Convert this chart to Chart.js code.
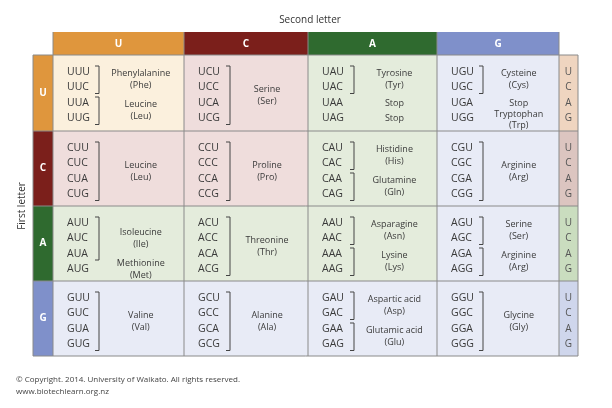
<!DOCTYPE html>
<html><head><meta charset="utf-8">
<script src="https://cdn.jsdelivr.net/npm/chart.js@4/dist/chart.umd.min.js"></script>
<style>html,body{margin:0;padding:0;background:#fff}#w{width:612px;height:408px}</style>
</head><body><div id="w"><canvas id="c"></canvas></div>
<script>
const bases = ['U','C','A','G'];
const headerColors = ['#DF963D','#7B1F1B','#2F6A2F','#7F90CA'];
const cellColors = ['#FBF0DD','#EFDDDC','#E4ECDC','#E8EBF6'];
const sideColors = ['#EFD5C0','#DCC5C0','#CADDBF','#CFD6EC'];
// groups[first][second] = [startIndex, count, name, abbrev]
const groups = [
 [[[0,2,'Phenylalanine','(Phe)'],[2,2,'Leucine','(Leu)']],
  [[0,4,'Serine','(Ser)']],
  [[0,2,'Tyrosine','(Tyr)'],[2,1,'Stop',''],[3,1,'Stop','']],
  [[0,2,'Cysteine','(Cys)'],[2,1,'Stop',''],[3,1,'Tryptophan','(Trp)']]],
 [[[0,4,'Leucine','(Leu)']],[[0,4,'Proline','(Pro)']],
  [[0,2,'Histidine','(His)'],[2,2,'Glutamine','(Gln)']],[[0,4,'Arginine','(Arg)']]],
 [[[0,3,'Isoleucine','(Ile)'],[3,1,'Methionine','(Met)']],[[0,4,'Threonine','(Thr)']],
  [[0,2,'Asparagine','(Asn)'],[2,2,'Lysine','(Lys)']],
  [[0,2,'Serine','(Ser)'],[2,2,'Arginine','(Arg)']]],
 [[[0,4,'Valine','(Val)']],[[0,4,'Alanine','(Ala)']],
  [[0,2,'Aspartic acid','(Asp)'],[2,2,'Glutamic acid','(Glu)']],[[0,4,'Glycine','(Gly)']]]
];
const titleTop = 'Second letter', titleLeft = 'First letter';
const footer = ['© Copyright. 2014. University of Waikato. All rights reserved.','www.biotechlearn.org.nz'];

const colX = [53,184,308,437,559], rowY = [55,131,206,281,356];
const plugin = {id:'table', afterDraw(ch){
  const c = ch.ctx, sx = ch.scales.x, sy = ch.scales.y;
  const X = v=>sx.getPixelForValue(v), Y = v=>sy.getPixelForValue(v);
  const F = 'Open Sans, DejaVu Sans, sans-serif';
  c.save();
  c.textAlign='center'; c.textBaseline='middle';
  c.fillStyle='#333'; c.font='10px '+F;
  c.fillText(titleTop, X(310), Y(20));
  c.save(); c.translate(X(22),Y(206)); c.rotate(-Math.PI/2); c.fillText(titleLeft,0,0); c.restore();
  for(let i=0;i<4;i++){
    c.fillStyle=headerColors[i];
    c.fillRect(X(colX[i]),Y(32),X(colX[i+1])-X(colX[i]),Y(55)-Y(32));
    c.fillRect(X(33),Y(rowY[i]),X(53)-X(33),Y(rowY[i+1])-Y(rowY[i]));
    c.fillStyle=sideColors[i];
    c.fillRect(X(559),Y(rowY[i]),X(578)-X(559),Y(rowY[i+1])-Y(rowY[i]));
    c.fillStyle='#fff'; c.font='bold 10px '+F;
    c.fillText(bases[i],(X(colX[i])+X(colX[i+1]))/2,Y(44));
    c.fillText(bases[i],X(43),(Y(rowY[i])+Y(rowY[i+1]))/2);
    c.fillStyle='#555'; c.font='10px '+F;
    for(let k=0;k<4;k++) c.fillText(bases[k],X(568.5),Y(rowY[i]+17+k*15.5));
  }
  for(let r=0;r<4;r++) for(let q=0;q<4;q++){
    const x0=colX[q], x1=colX[q+1], y0=rowY[r], y1=rowY[r+1];
    c.fillStyle=cellColors[Math.max(r,q)];
    c.fillRect(X(x0),Y(y0),X(x1)-X(x0),Y(y1)-Y(y0));
    c.fillStyle='#3a3a3a'; c.font='10.5px '+F; c.textAlign='left';
    const cy=k=>y0+17+k*15.5;
    for(let k=0;k<4;k++) c.fillText(bases[r]+bases[q]+bases[k],X(x0+14),Y(cy(k)));
    c.textAlign='center'; c.font='9px '+F;
    const nx=x0+(x1-x0)*0.67;
    for(const g of groups[r][q]){
      const [s,n,name,ab]=g;
      const ya=cy(s), yb=cy(s+n-1);
      if(n>1){
        c.strokeStyle='#444'; c.lineWidth=1; c.beginPath();
        c.moveTo(X(x0+42),Y(ya-6)); c.lineTo(X(x0+46),Y(ya-6));
        c.lineTo(X(x0+46),Y(yb+6)); c.lineTo(X(x0+42),Y(yb+6)); c.stroke();
      }
      if(ab){
        const m=(n===1 && name==='Tryptophan')?ya+1.5:(ya+yb)/2;
        const d=(name==='Tryptophan')?5.5:6;
        c.fillText(name,X(nx),Y(m-d)); c.fillText(ab,X(nx),Y(m+d));
      } else c.fillText(name,X(nx),Y(ya));
    }
  }
  c.strokeStyle='#8a8a8a'; c.lineWidth=1;
  for(let i=0;i<5;i++){ c.beginPath(); c.moveTo(X(33),Y(rowY[i])); c.lineTo(X(578),Y(rowY[i])); c.stroke();
    c.beginPath(); c.moveTo(X(colX[i]),Y(32)); c.lineTo(X(colX[i]),Y(356)); c.stroke(); }
  c.beginPath(); c.moveTo(X(33),Y(55)); c.lineTo(X(33),Y(356)); c.stroke();
  c.beginPath(); c.moveTo(X(578),Y(55)); c.lineTo(X(578),Y(356)); c.stroke();
  c.fillStyle='#444'; c.font='8px '+F; c.textAlign='left';
  c.fillText(footer[0],X(16),Y(380)); c.fillText(footer[1],X(16),Y(392));
  c.restore();
}};
new Chart(document.getElementById('c'),{type:'scatter',
  data:{datasets:[{data:[],pointRadius:0}]},
  options:{responsive:true,maintainAspectRatio:false,animation:false,
    layout:{padding:0},plugins:{legend:{display:false},tooltip:{enabled:false}},
    scales:{x:{type:'linear',min:0,max:612,display:false},y:{type:'linear',min:0,max:408,reverse:true,display:false}}},
  plugins:[plugin]});
</script></body></html>
